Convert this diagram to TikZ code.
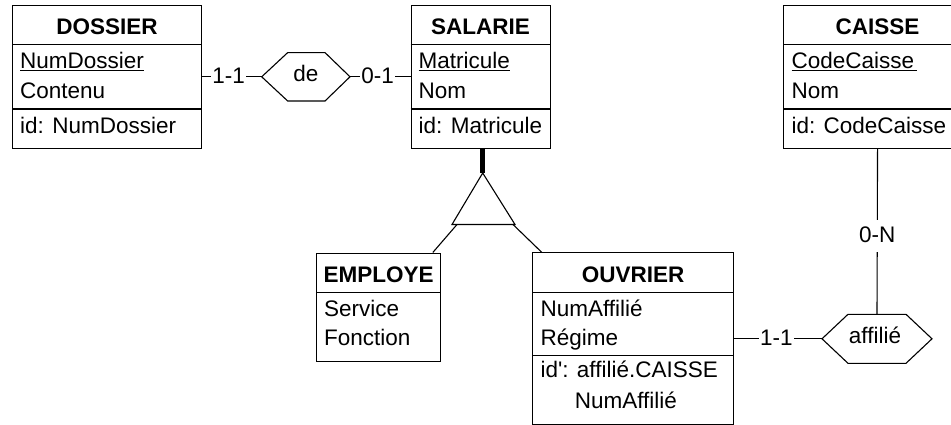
\documentclass[tikz,border=0pt]{standalone}
\usepackage{fontspec}
\setmainfont{Liberation Sans}[Ligatures=TeXOff]
\usetikzlibrary{calc}
\newcommand\erfont{\fontsize{22.5pt}{26pt}\selectfont}
\tikzset{
  every node/.append style={font=\erfont},
  ent/.style={draw, line width=1.1pt, rectangle, inner sep=0pt, anchor=north west},
  ttl/.style={anchor=base, inner sep=0pt, font=\erfont\bfseries},
  att/.style={anchor=base west, inner sep=0pt},
  rule/.style={line width=1.1pt},
  link/.style={line width=1.1pt},
  card/.style={fill=white, inner xsep=1.5pt, inner ysep=3.5pt, text height=19pt, text depth=6pt},
  rel/.style={draw, line width=1.1pt, line join=miter},
  hexlabel/.style={anchor=base, inner sep=0pt},
}
\begin{document}
\begin{tikzpicture}[x=1pt,y=-1pt]
\clip (0,0) rectangle (951,425);
\fill[white] (0,0) rectangle (951,425);

% ---- entity DOSSIER
\node[ent, minimum width=189pt, minimum height=143.3pt] (dos) at (12,4.7) {};
\node[ttl] (dos-t) at ($(dos.north)+(0,30.3)$) {DOSSIER};
\draw[rule] ($(dos.north west)+(0,40)$) -- ($(dos.north east)+(0,40)$);
\draw[rule] ($(dos.north west)+(0,104.3)$) -- ($(dos.north east)+(0,104.3)$);
\node[att] (dos-a1) at ($(dos.north west)+(8,64.3)$) {\underline{NumDossier}};
\node[att] (dos-a2) at ($(dos.north west)+(8,94.3)$) {Contenu};
\node[att] (dos-id) at ($(dos.north west)+(8,128.6)$) {id: NumDossier};

% ---- entity SALARIE
\node[ent, minimum width=139pt, minimum height=143.3pt] (sal) at (410.5,4.7) {};
\node[ttl] (sal-t) at ($(sal.north)+(0,30.3)$) {SALARIE};
\draw[rule] ($(sal.north west)+(0,40)$) -- ($(sal.north east)+(0,40)$);
\draw[rule] ($(sal.north west)+(0,104.3)$) -- ($(sal.north east)+(0,104.3)$);
\node[att] (sal-a1) at ($(sal.north west)+(8,64.3)$) {\underline{Matricule}};
\node[att] (sal-a2) at ($(sal.north west)+(8,94.3)$) {Nom};
\node[att] (sal-id) at ($(sal.north west)+(8,128.6)$) {id: Matricule};

% ---- entity CAISSE
\node[ent, minimum width=187.4pt, minimum height=143.3pt] (cai) at (783.3,4.7) {};
\node[ttl] (cai-t) at ($(cai.north)+(0,30.3)$) {CAISSE};
\draw[rule] ($(cai.north west)+(0,40)$) -- ($(cai.north east)+(0,40)$);
\draw[rule] ($(cai.north west)+(0,104.3)$) -- ($(cai.north east)+(0,104.3)$);
\node[att] (cai-a1) at ($(cai.north west)+(8,64.3)$) {\underline{CodeCaisse\hspace{3pt}}};
\node[att] (cai-a2) at ($(cai.north west)+(8,94.3)$) {Nom};
\node[att] (cai-id) at ($(cai.north west)+(8,128.6)$) {id: CodeCaisse};

% ---- entity EMPLOYE
\node[ent, minimum width=124pt, minimum height=108pt] (emp) at (316,252.5) {};
\node[ttl] (emp-t) at ($(emp.north)+(0,29.8)$) {EMPLOYE};
\draw[rule] ($(emp.north west)+(0,40)$) -- ($(emp.north east)+(0,40)$);
\node[att] (emp-a1) at ($(emp.north west)+(8,63.5)$) {Service};
\node[att] (emp-a2) at ($(emp.north west)+(8,92.5)$) {Fonction};

% ---- entity OUVRIER
\node[ent, minimum width=200.7pt, minimum height=171.7pt] (ouv) at (532.3,252.3) {};
\node[ttl] (ouv-t) at ($(ouv.north)+(0,30.2)$) {OUVRIER};
\draw[rule] ($(ouv.north west)+(0,40)$) -- ($(ouv.north east)+(0,40)$);
\draw[rule] ($(ouv.north west)+(0,103.2)$) -- ($(ouv.north east)+(0,103.2)$);
\node[att] (ouv-a1) at ($(ouv.north west)+(8,63.7)$) {NumAffilié};
\node[att] (ouv-a2) at ($(ouv.north west)+(8,92.7)$) {Régime};
\node[att] (ouv-id1) at ($(ouv.north west)+(8,125.2)$) {id': affilié.CAISSE};
\node[att] (ouv-id2) at ($(ouv.north west)+(8,156.2)$) {\phantom{id':\ }NumAffilié};

% ---- relationship "de"
\coordinate (de-w) at (261.7,76.8);
\coordinate (de-e) at (350,76.8);
\draw[rel] (de-w) -- (287.7,52.6) -- (325,52.6) -- (de-e) -- (325,101) -- (287.7,101) -- cycle;
\node[hexlabel] (de) at (305.8,81.7) {de};

% ---- relationship "affilié"
\coordinate (aff-w) at (822,338.8);
\coordinate (aff-e) at (932,338.8);
\coordinate (aff-n) at (877,314.3);
\draw[rel] (aff-w) -- (848,314.3) -- (906,314.3) -- (aff-e) -- (906,363.3) -- (848,363.3) -- cycle;
\node[hexlabel] (aff) at (875,343.5) {affilié};

% ---- roles
\draw[link] (dos.east |- de-w) -- node[card, pos=0.445] (c-dos) {1-1} (de-w);
\draw[link] (de-e) -- node[card, pos=0.456] (c-sal) {0-1} (sal.west |- de-e);
\draw[link] (cai.south) -- node[card, pos=0.525] (c-cai) {0-N} (aff-n);
\draw[link] (ouv.east |- aff-w) -- node[card, pos=0.48] (c-ouv) {1-1} (aff-w);

% ---- is-a triangle
\coordinate (isa-t) at (482.7,173);
\coordinate (isa-l) at (452,224.5);
\coordinate (isa-r) at (515,224.5);
\coordinate (isa-le) at (457,224.5);
\coordinate (isa-re) at (513,224.5);
\draw[rel] (isa-t) -- (isa-l) -- (isa-r) -- cycle;
\draw[line width=5pt] (isa-t |- sal.south) -- (isa-t);
\draw[link] (isa-le) -- ($(emp.north east)+(-8.3,0)$);
\draw[link] (isa-re) -- ($(ouv.north west)+(9.4,0)$);
\end{tikzpicture}
\end{document}
